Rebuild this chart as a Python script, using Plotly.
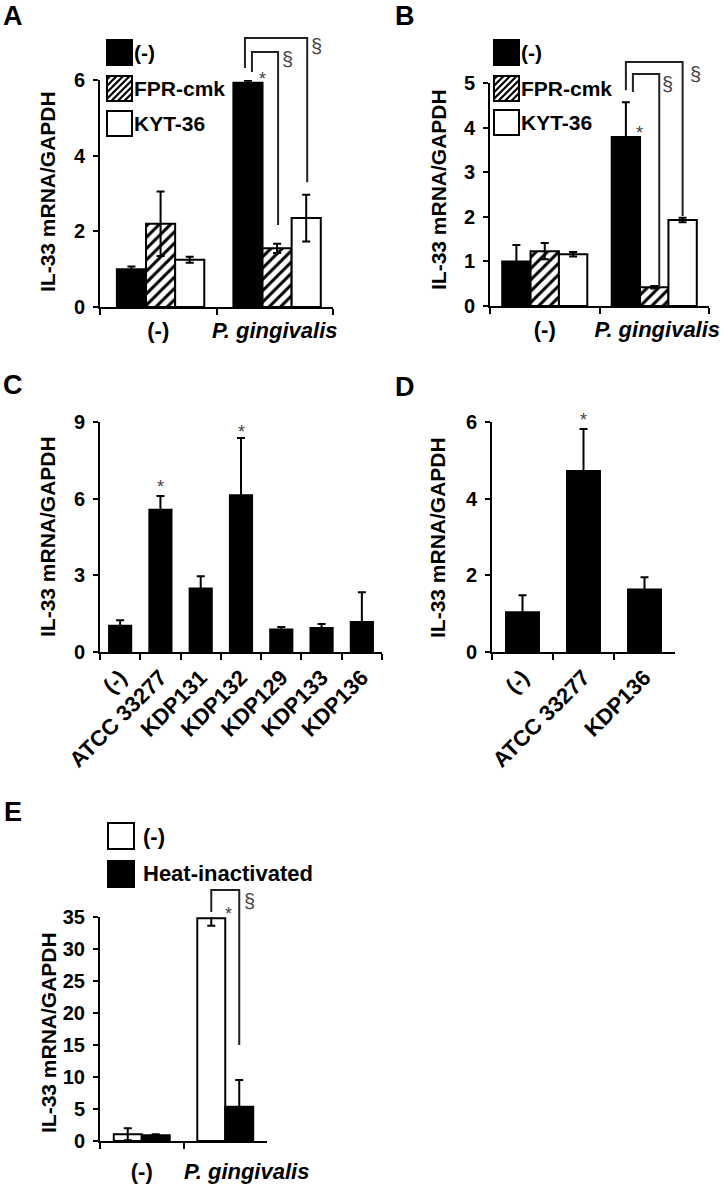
import plotly.graph_objects as go

W, H = 724, 1186
FONT = "Liberation Sans, Arial, sans-serif"

# ---------------- data ----------------
A_groups = ["(-)", "P. gingivalis"]
A_ctrl = [1.0, 5.93]
A_ctrl_err = [0.07, 0.05]
A_fpr = [2.2, 1.55]
A_fpr_err = [0.85, 0.12]
A_kyt = [1.25, 2.35]
A_kyt_err = [0.08, 0.62]
A_yticks = [0, 2, 4, 6]

B_groups = ["(-)", "P. gingivalis"]
B_ctrl = [1.0, 3.79]
B_ctrl_err = [0.37, 0.78]
B_fpr = [1.23, 0.42]
B_fpr_err = [0.18, 0.03]
B_kyt = [1.16, 1.93]
B_kyt_err = [0.05, 0.05]
B_yticks = [0, 1, 2, 3, 4, 5]

C_strains = ["(-)", "ATCC 33277", "KDP131", "KDP132", "KDP129", "KDP133", "KDP136"]
C_vals = [1.03, 5.57, 2.48, 6.13, 0.88, 0.94, 1.17]
C_err = [0.21, 0.53, 0.48, 2.24, 0.10, 0.16, 1.17]
C_yticks = [0, 3, 6, 9]

D_strains = ["(-)", "ATCC 33277", "KDP136"]
D_vals = [1.04, 4.72, 1.63]
D_err = [0.44, 1.10, 0.32]
D_yticks = [0, 2, 4, 6]

E_groups = ["(-)", "P. gingivalis"]
E_live = [1.05, 34.8]
E_live_err = [0.95, 1.15]
E_heat = [0.9, 5.36]
E_heat_err = [0.15, 4.16]
E_yticks = [0, 5, 10, 15, 20, 25, 30, 35]

YTITLE = "IL-33 mRNA/GAPDH"

# ---------------- panel geometry (pixels) ----------------
panels = {
    "A": dict(ax="", x0=100, x1=333, y0=80, y1=307, ymax=6, cats=A_groups, ticks=A_yticks, bw=0.25, nb=3, shift=0.02),
    "B": dict(ax="2", x0=490, x1=709, y0=83, y1=306, ymax=5, cats=B_groups, ticks=B_yticks, bw=0.259, nb=3, shift=0.0),
    "C": dict(ax="3", x0=100, x1=382, y0=422, y1=652, ymax=9, cats=C_strains, ticks=C_yticks, bw=0.55, nb=1, shift=0.0),
    "D": dict(ax="4", x0=492, x1=675, y0=422, y1=652, ymax=6, cats=D_strains, ticks=D_yticks, bw=0.54, nb=1, shift=0.0),
    "E": dict(ax="5", x0=100, x1=267, y0=917, y1=1141, ymax=35, cats=E_groups, ticks=E_yticks, bw=0.335, nb=2, shift=0.0),
}


def px(x):
    return x / W


def py(y):
    return 1 - y / H


def offset_of(p, i):
    return -p["bw"] * p["nb"] / 2 + i * p["bw"] + p["shift"]


def bar_cx(p, cat, i):
    c = cat + offset_of(p, i) + p["bw"] / 2
    return p["x0"] + (c + 0.5) / len(p["cats"]) * (p["x1"] - p["x0"])


def val_y(p, v):
    return p["y1"] - v / p["ymax"] * (p["y1"] - p["y0"])


def ticktext(cats, lead=0):
    out = []
    for c in cats:
        if c == "P. gingivalis":
            out.append("&nbsp;" * lead + "<i>" + c + "</i>")
        else:
            out.append(c)
    return out


fig = go.Figure()

BLACK = dict(color="black", line=dict(color="black", width=2))
WHITE = dict(color="white", line=dict(color="black", width=2))
HATCH = dict(color="white", line=dict(color="black", width=2),
             pattern=dict(shape="/", fgcolor="black", bgcolor="white", size=8, solidity=0.38))


def add_bar(p, vals, errs, i, marker, name):
    a = p["ax"]
    fig.add_trace(go.Bar(
        x=p["cats"], y=vals, name=name, width=p["bw"], offset=offset_of(p, i),
        marker=marker, xaxis="x" + a, yaxis="y" + a,
        error_y=dict(type="data", array=errs, visible=True, color="black", thickness=2, width=4),
        showlegend=False,
    ))


pA, pB, pC, pD, pE = (panels[k] for k in "ABCDE")
add_bar(pA, A_ctrl, A_ctrl_err, 0, BLACK, "(-)")
add_bar(pA, A_fpr, A_fpr_err, 1, HATCH, "FPR-cmk")
add_bar(pA, A_kyt, A_kyt_err, 2, WHITE, "KYT-36")
add_bar(pB, B_ctrl, B_ctrl_err, 0, BLACK, "(-)")
add_bar(pB, B_fpr, B_fpr_err, 1, HATCH, "FPR-cmk")
add_bar(pB, B_kyt, B_kyt_err, 2, WHITE, "KYT-36")
add_bar(pC, C_vals, C_err, 0, BLACK, "C")
add_bar(pD, D_vals, D_err, 0, BLACK, "D")
add_bar(pE, E_live, E_live_err, 0, WHITE, "(-)")
add_bar(pE, E_heat, E_heat_err, 1, BLACK, "Heat-inactivated")

layout = dict(
    template="none",
    width=W, height=H, autosize=False,
    margin=dict(l=0, r=0, t=0, b=0, pad=0),
    paper_bgcolor="white", plot_bgcolor="white",
    barmode="overlay", showlegend=False,
    font=dict(family=FONT, color="black"),
)

lead_spaces = {"A": 0, "B": 1, "E": 7}

for key, p in panels.items():
    a = p["ax"]
    xa = dict(
        domain=[px(p["x0"]), px(p["x1"])], anchor="y" + a, type="category",
        range=[-0.5, len(p["cats"]) - 0.5], tickson="boundaries", automargin=False,
        ticks="outside", ticklen=6, tickwidth=1.5, tickcolor="black",
        showline=True, linewidth=2, linecolor="black",
        showgrid=False, zeroline=False,
        tickfont=dict(family=FONT, size=22, color="black", weight="bold"),
    )
    if key in ("C", "D"):
        xa["tickangle"] = -45
        xa["ticklabelstandoff"] = 2
    else:
        xa["tickangle"] = 0
        xa["tickmode"] = "array"
        xa["tickvals"] = p["cats"]
        xa["ticktext"] = ticktext(p["cats"], lead_spaces[key])
        xa["ticklabelstandoff"] = 10 if key == "E" else 3
    ya = dict(
        domain=[py(p["y1"]), py(p["y0"])], anchor="x" + a, automargin=False,
        range=[0, p["ymax"]], tickvals=p["ticks"],
        ticks="outside", ticklen=5, tickwidth=2, tickcolor="black",
        showline=True, linewidth=2, linecolor="black",
        showgrid=False, zeroline=False, ticklabelstandoff=4,
        tickfont=dict(family=FONT, size=20, color="black", weight="bold"),
    )
    layout["xaxis" + a] = xa
    layout["yaxis" + a] = ya

fig.update_layout(**layout)

ann = []
shapes = []

# panel letters
letters = {"A": (13, 16), "B": (405, 16), "C": (13, 385), "D": (405, 387), "E": (13, 812)}
for k, (x, y) in letters.items():
    ann.append(dict(text=k, x=px(x), y=py(y), xref="paper", yref="paper", showarrow=False,
                    xanchor="center", yanchor="middle",
                    font=dict(family=FONT, size=27, color="black", weight="bold")))

# y titles
ytitle_pos = {"A": (47, 192), "B": (439, 190), "C": (48, 537), "D": (438, 537), "E": (48, 1033)}
for k, (x, y) in ytitle_pos.items():
    ann.append(dict(text=YTITLE, x=px(x), y=py(y), xref="paper", yref="paper", showarrow=False,
                    textangle=-90, xanchor="center", yanchor="middle",
                    font=dict(family=FONT, size=21, color="black", weight="bold")))


# legends
def hatch_path(x0, y0, x1, y1, s=6.5):
    segs = []
    c = x0 + y0 + s / 2
    while c < x1 + y1:
        xa_ = max(x0, c - y1)
        xb_ = min(x1, c - y0)
        if xb_ > xa_:
            segs.append("M%.5f,%.5f L%.5f,%.5f" % (px(xa_), py(c - xa_), px(xb_), py(c - xb_)))
        c += s
    return " ".join(segs)


def legend_item(x0, y0, size, kind, label, gap=1, fsize=21):
    x1, y1 = x0 + size, y0 + size
    fill = "black" if kind == "black" else "white"
    shapes.append(dict(type="rect", xref="paper", yref="paper", x0=px(x0), x1=px(x1), y0=py(y1), y1=py(y0),
                       fillcolor=fill, line=dict(color="black", width=2)))
    if kind == "hatch":
        shapes.append(dict(type="path", xref="paper", yref="paper", path=hatch_path(x0, y0, x1, y1),
                           line=dict(color="black", width=2.2)))
        shapes.append(dict(type="rect", xref="paper", yref="paper", x0=px(x0), x1=px(x1), y0=py(y1), y1=py(y0),
                           line=dict(color="black", width=2)))
    ann.append(dict(text=label, x=px(x1 + gap), y=py((y0 + y1) / 2), xref="paper", yref="paper",
                    showarrow=False, xanchor="left", yanchor="middle", borderpad=0,
                    font=dict(family=FONT, size=fsize, color="black", weight="bold")))


legend_item(107, 40, 25, "black", "(-)")
legend_item(107, 76, 25, "hatch", "FPR-cmk")
legend_item(107, 111, 25, "white", "KYT-36")
legend_item(494, 40, 25, "black", "(-)")
legend_item(494, 76, 25, "hatch", "FPR-cmk")
legend_item(494, 110, 25, "white", "KYT-36")
legend_item(108, 823, 26, "white", "(-)", gap=8, fsize=22)
legend_item(108, 861, 26, "black", "Heat-inactivated", gap=8, fsize=22)


# brackets and significance marks
def bracket(p, lx, rx, top_v, lbot_v, rbot_v):
    path = "M%.5f,%.5f L%.5f,%.5f L%.5f,%.5f L%.5f,%.5f" % (
        px(lx), py(val_y(p, lbot_v)), px(lx), py(val_y(p, top_v)),
        px(rx), py(val_y(p, top_v)), px(rx), py(val_y(p, rbot_v)))
    shapes.append(dict(type="path", xref="paper", yref="paper", path=path,
                       line=dict(color="#222222", width=2)))


def mark(text, x, y, size):
    ann.append(dict(text=text, x=px(x), y=py(y), xref="paper", yref="paper", showarrow=False,
                    xanchor="center", yanchor="middle",
                    font=dict(family=FONT, size=size, color="#444444")))


# A
bracket(pA, bar_cx(pA, 1, 0) + 4, bar_cx(pA, 1, 1) + 1, 6.74, 6.21, 2.17)
bracket(pA, bar_cx(pA, 1, 0) - 3, bar_cx(pA, 1, 2) + 1, 7.11, 6.32, 3.30)
mark("§", bar_cx(pA, 1, 1) + 10, val_y(pA, 6.55), 20)
mark("§", bar_cx(pA, 1, 2) + 10, val_y(pA, 6.9), 20)
mark("*", bar_cx(pA, 1, 0) + 15, val_y(pA, A_ctrl[1]) - 4, 18)
# B
bracket(pB, bar_cx(pB, 1, 0) + 7, bar_cx(pB, 1, 1) + 5, 5.20, 4.80, 0.43)
bracket(pB, bar_cx(pB, 1, 0), bar_cx(pB, 1, 2), 5.47, 4.84, 2.02)
mark("§", bar_cx(pB, 1, 1) + 13, val_y(pB, 4.98), 20)
mark("§", bar_cx(pB, 1, 2) + 13, val_y(pB, 5.2), 20)
mark("*", bar_cx(pB, 1, 0) + 14, val_y(pB, B_ctrl[1]) - 4, 18)
# C
mark("*", bar_cx(pC, 1, 0), val_y(pC, C_vals[1] + C_err[1]) - 9, 18)
mark("*", bar_cx(pC, 3, 0), val_y(pC, C_vals[3] + C_err[3]) - 6, 18)
# D
mark("*", bar_cx(pD, 1, 0), val_y(pD, D_vals[1] + D_err[1]) - 9, 18)
# E
bracket(pE, bar_cx(pE, 1, 0), bar_cx(pE, 1, 1), 39.2, 35.8, 15.0)
mark("§", bar_cx(pE, 1, 1) + 10, val_y(pE, 37.5), 20)
mark("*", bar_cx(pE, 1, 0) + 17, val_y(pE, E_live[1]) - 4, 18)

fig.update_layout(annotations=ann, shapes=shapes)
fig.write_html("out.html", config={"displayModeBar": False},
               post_script="document.body.style.margin='0px';document.body.style.overflow='hidden';")
